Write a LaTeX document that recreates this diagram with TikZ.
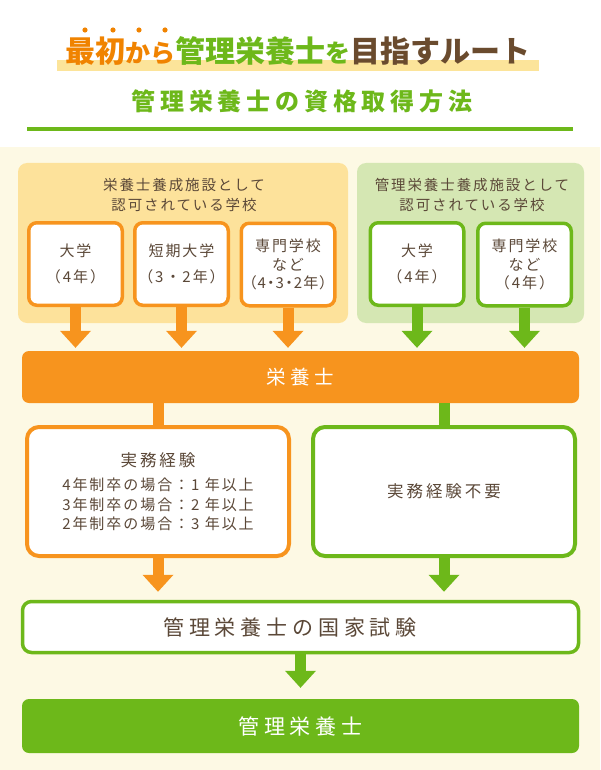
\documentclass[tikz,border=0pt]{standalone}
\usepackage{fontspec}
\usetikzlibrary{arrows.meta,calc}
\newfontfamily\jp{Noto Sans CJK JP}
\newfontfamily\jpa[LetterSpace=13]{Noto Sans CJK JP}
\newfontfamily\jpp[LetterSpace=8,RawFeature=+palt]{Noto Sans CJK JP}
\newfontfamily\jpb[LetterSpace=18]{Noto Sans CJK JP}
\newfontfamily\jpc[LetterSpace=23]{Noto Sans CJK JP}
\newfontfamily\jpd[LetterSpace=20]{Noto Sans CJK JP}
\definecolor{cOr}{HTML}{F7941E}
\definecolor{cGr}{HTML}{6DB81A}
\definecolor{cOrFill}{HTML}{FDE29B}
\definecolor{cGrFill}{HTML}{D5E7B3}
\definecolor{cCream}{HTML}{FDF9E4}
\definecolor{cTxt}{HTML}{5B4838}
\definecolor{cTitleBr}{HTML}{6A4B2E}
\definecolor{cTitleOr}{HTML}{F08300}
\definecolor{cHl}{HTML}{FCE49A}
\tikzset{
  grpbox/.style={rounded corners=9pt, minimum height=160pt, inner sep=0pt},
  hdrtext/.style={align=center, text=cTxt, inner sep=0pt, font=\jpa\fontsize{14.5}{20}\selectfont},
  ibox/.style={line width=3.5pt, fill=white, rounded corners=8pt, minimum width=93.5pt, minimum height=82.5pt, inner sep=0pt, align=center, text=cTxt, font=\jpa\fontsize{15}{26}\selectfont},
  bigbox/.style={line width=4pt, fill=white, rounded corners=12pt, minimum width=262pt, minimum height=129pt, inner sep=0pt, align=center, text=cTxt},
  barbox/.style={rounded corners=7pt, minimum width=557pt, inner sep=0pt, text=white},
  stem/.style={line width=11pt},
  fatarrow/.style={line width=11pt, -{Triangle[width=31pt,length=17pt,line width=0pt]}}
}
\begin{document}
\begin{tikzpicture}[x=1pt,y=-1pt]
\useasboundingbox (0,0) rectangle (600,770);
\fill[white] (0,0) rectangle (600,770);
\fill[cCream] (0,147) rectangle (600,770);
% title
\fill[cHl] (57,60) rectangle (539,71);
\foreach \x in {85,113,139,165} \fill[cTitleOr] (\x,30) circle (2.6pt);
\node[inner sep=0pt] (title) at (297.5,51) {\jp\bfseries\fontsize{30}{30}\selectfont\color{cTitleOr}最初{\fontsize{25}{25}\selectfont から}\color{cGr}管理栄養士{\fontsize{25}{25}\selectfont を}\color{cTitleBr}目指すルート};
\node[inner sep=0pt, text=cGr] (subtitle) at (302,101) {\jpd\bfseries\fontsize{24}{24}\selectfont 管理栄養士の資格取得方法};
\draw[cGr, line width=4pt] (27,129) -- (573,129);
% groups
\node[grpbox, fill=cOrFill, minimum width=330pt] (ogrp) at (183,243) {};
\node[grpbox, fill=cGrFill, minimum width=227pt] (ggrp) at (470.5,243) {};
\node[hdrtext] (ohdr) at (184,195) {栄養士養成施設として\\認可されている学校};
\node[hdrtext] (ghdr) at (472,195) {管理栄養士養成施設として\\認可されている学校};
% schools
\node[ibox, draw=cOr] (b1) at (75.5,264) {大学\\（4年）};
\node[ibox, draw=cOr] (b2) at (181.5,264) {短期大学\\（3・2年）};
\node[ibox, draw=cOr, font=\jpa\fontsize{15}{18.5}\selectfont] (b3) at (288,264.5) {専門学校\\など\\{\jpp （4・3・2年）}};
\node[ibox, draw=cGr] (b4) at (417,264) {大学\\（4年）};
\node[ibox, draw=cGr, font=\jpa\fontsize{15}{18.5}\selectfont] (b5) at (524.5,264.5) {専門学校\\など\\（4年）};
% eiyoshi bar
\node[barbox, fill=cOr, minimum height=52pt, font=\jpc\fontsize{19.5}{19.5}\selectfont] (eiyo) at (300.5,377) {栄養士};
\foreach \b in {b1,b2,b3} \draw[fatarrow, cOr, shorten >=3pt] (\b.south) -- (\b.south |- eiyo.north);
\foreach \b in {b4,b5} \draw[fatarrow, cGr, shorten >=3pt] (\b.south) -- (\b.south |- eiyo.north);
% experience boxes
\node[bigbox, draw=cOr, font=\jpa\fontsize{15}{19.5}\selectfont] (lbox) at (158,491.5) {{\jpb\fontsize{16.5}{19.5}\selectfont 実務経験}\\[5pt]4年制卒の場合：1 年以上\\3年制卒の場合：2 年以上\\2年制卒の場合：3 年以上};
\node[bigbox, draw=cGr, font=\jpb\fontsize{16.5}{20}\selectfont] (rbox) at (444,491.5) {実務経験不要};
\draw[stem, cOr] (lbox.north |- eiyo.south) -- (lbox.north);
\draw[stem, cGr] (rbox.north |- eiyo.south) -- (rbox.north);
% exam
\node[line width=3.5pt, draw=cGr, fill=white, rounded corners=9pt, minimum width=556pt, minimum height=51pt, inner sep=0pt] (exam) at (300.5,627) {};
\node[inner sep=0pt, text=cTxt, font=\jpc\fontsize{21}{21}\selectfont] (examtxt) at (290,627) {管理栄養士の国家試験};
\draw[fatarrow, cOr, shorten >=8pt] (lbox.south) -- (lbox.south |- exam.north);
\draw[fatarrow, cGr, shorten >=8pt] (rbox.south) -- (rbox.south |- exam.north);
% final
\node[barbox, fill=cGr, minimum height=54pt, font=\jpc\fontsize{21}{21}\selectfont] (final) at (300.5,726) {管理栄養士};
\draw[fatarrow, cGr, shorten >=11pt] (exam.south) -- (exam.south |- final.north);
\end{tikzpicture}
\end{document}
